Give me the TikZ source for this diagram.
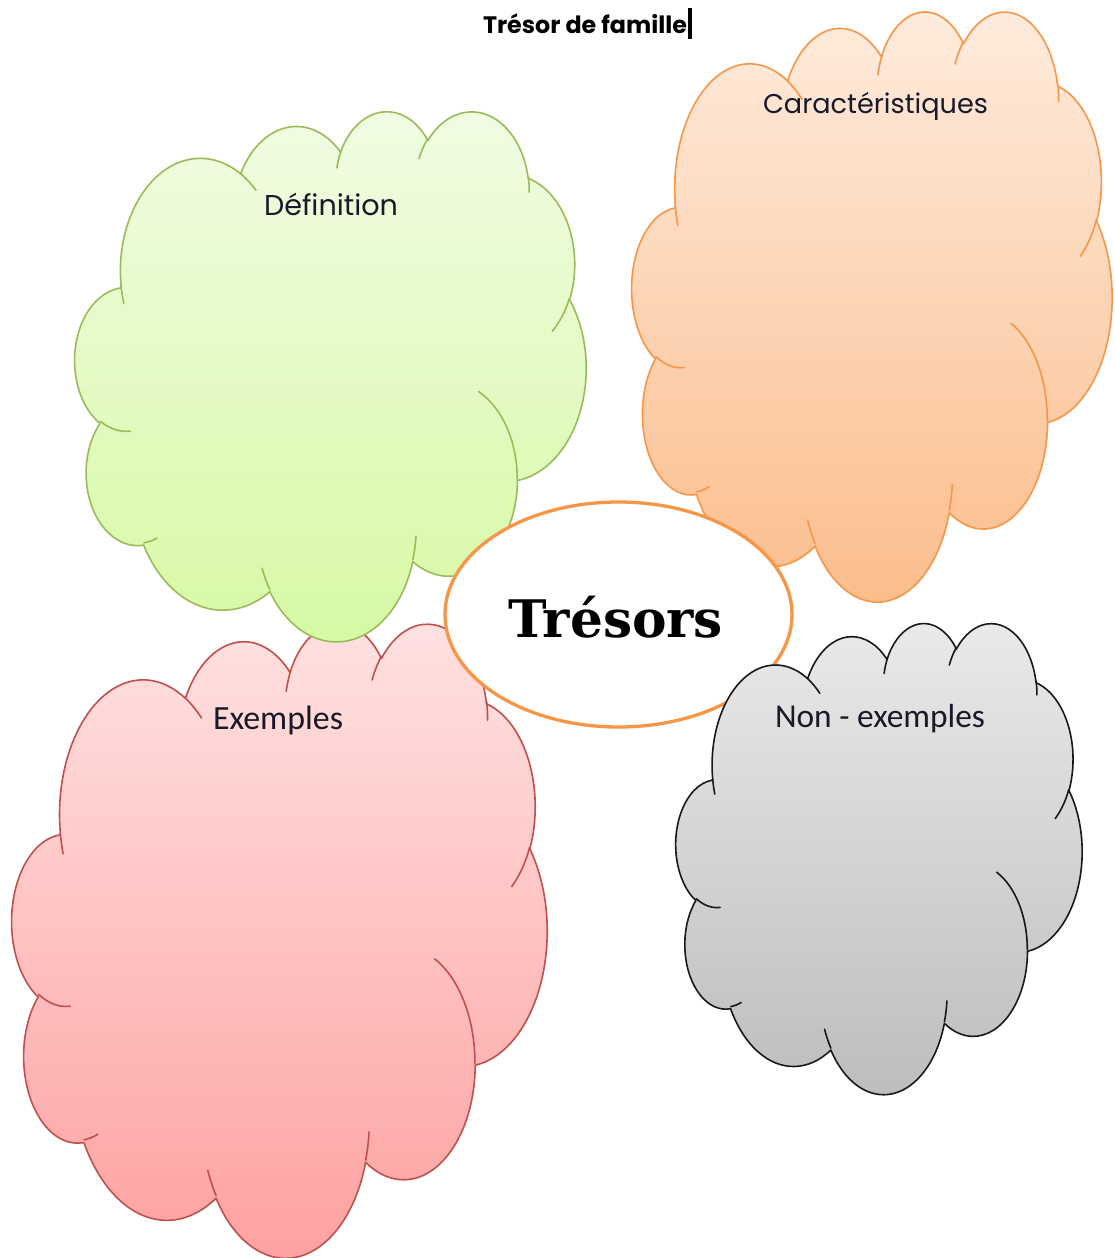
\documentclass[tikz,border=0pt]{standalone}
\usepackage{fontspec}
\usepackage{graphicx}
\usetikzlibrary{shapes.geometric}
\setmainfont{Carlito}
\newfontfamily\comicfont{Poppins}
\newfontfamily\fancyfont{DejaVu Serif}

\definecolor{gTop}{RGB}{240,252,228}
\definecolor{gBot}{RGB}{214,249,163}
\definecolor{gLine}{RGB}{155,187,89}
\definecolor{oTop}{RGB}{254,236,222}
\definecolor{oBot}{RGB}{251,188,138}
\definecolor{oLine}{RGB}{247,150,70}
\definecolor{pTop}{RGB}{255,226,226}
\definecolor{pBot}{RGB}{254,160,160}
\definecolor{pLine}{RGB}{192,80,77}
\definecolor{kTop}{RGB}{234,234,234}
\definecolor{kBot}{RGB}{188,188,188}
\definecolor{kLine}{RGB}{25,25,25}
\definecolor{txt}{RGB}{25,25,40}

% arc of the Office cloud: visual angles -> parametric angles (y flipped)
\newcommand\cloudarc[4]{%
  \pgfmathsetmacro\cta{atan2((#1)*sin(#3),(#2)*cos(#3))}%
  \pgfmathsetmacro\ctb{atan2((#1)*sin((#3)+(#4)),(#2)*cos((#3)+(#4)))}%
  \pgfmathsetmacro\ctd{(\ctb)-(\cta)}%
  \pgfmathsetmacro\ctd{(\ctd)+360*round(((#4)-(\ctd))/360)}%
  \pgfmathsetmacro\csa{0-(\cta)}%
  \pgfmathsetmacro\cda{0-(\ctd)}%
  \xdef\cloudbuf{\cloudbuf arc[start angle=\csa, delta angle=\cda, x radius=#1, y radius=#2]}%
}
\newcommand\cloudmove[2]{\xdef\cloudbuf{\cloudbuf (#1,-#2)}}

\tikzset{
  cloudline/.style={line width=1.6pt, line join=round, line cap=round},
  lbl/.style={inner sep=0pt, outer sep=0pt, anchor=base west, text=txt},
}

\newcommand\putcloud[7]{%
  \begin{scope}[shift={(#1,-#2)}, xscale=#3/4320, yscale=#4/4320]
    \shade[top color=#5, bottom color=#6, draw=#7, cloudline] \cloudouter -- cycle;
    \draw[draw=#7, cloudline] \cloudinner;
  \end{scope}}

\begin{document}
\begin{tikzpicture}[x=1pt,y=1pt]
% ---- build the cloud outline
\xdef\cloudbuf{(390,-1437)}
\cloudarc{675.3}{919.0}{-190.48748}{123.78053}
\cloudarc{533.3}{726.7}{-144.10238}{89.94523}
\cloudarc{436.5}{594.5}{-145.80792}{99.72302}
\cloudarc{485.7}{659.5}{-130.98607}{117.24173}
\cloudarc{533.3}{727.3}{-78.70888}{109.02692}
\cloudarc{677.5}{922.0}{-46.26725}{130.269}
\cloudarc{578.5}{786.7}{0.62502}{114.03333}
\cloudarc{675.2}{921.5}{22.4516}{115.17255}
\cloudarc{772.0}{1054.3}{66.24263}{75.71102}
\cloudarc{436.0}{591.8}{-274.94208}{146.73557}
\cloudarc{434.5}{594.5}{-246.8285}{152.51885}
\global\let\cloudouter\cloudbuf
% ---- inner arcs
\xdef\cloudbuf{}
\cloudmove{469.3}{2617.7}\cloudarc{434.5}{594.5}{86.742}{26.4295}
\cloudmove{692.8}{3489.9}\cloudarc{436.0}{591.8}{73.61047}{11.44747}
\cloudmove{1647.8}{3909.0}\cloudarc{675.2}{921.5}{137.62415}{14.0811}
\cloudmove{2882.7}{3475.1}\cloudarc{675.2}{921.5}{6.45327}{15.99835}
\cloudmove{3412.9}{2295.4}\cloudarc{578.5}{786.7}{-70.29235}{70.91737}
\cloudmove{4179.8}{1535.4}\cloudarc{533.3}{727.3}{30.31803}{27.7515}
\cloudmove{3832.4}{542.6}\cloudarc{485.7}{659.5}{-13.74433}{14.8589}
\cloudmove{2907.8}{395.2}\cloudarc{485.7}{659.5}{-149.18145}{18.19537}
\cloudmove{2214.1}{472.0}\cloudarc{436.5}{594.5}{-163.49427}{17.68635}
\cloudmove{1400.0}{519.2}\cloudarc{675.3}{919.0}{-66.70695}{12.31935}
\cloudmove{412.7}{1578.9}\cloudarc{675.3}{919.0}{157.65435}{11.85817}
\global\let\cloudinner\cloudbuf

% ---- canvas
\fill[white] (0,0) rectangle (1115,-1258);
\useasboundingbox (0,0) rectangle (1115,-1258);

% ---- clouds (back to front)
\putcloud{12}{622}{535}{634}{pTop}{pBot}{pLine}
\putcloud{75}{110}{511}{530}{gTop}{gBot}{gLine}
\putcloud{632}{10}{480}{590}{oTop}{oBot}{oLine}

% ---- centre ellipse
\node[draw=oLine, fill=white, line width=3.3pt, ellipse, minimum width=347pt, minimum height=225pt, inner sep=0pt] (centre) at (618.5,-614.5) {};

\putcloud{676}{622}{406}{471}{kTop}{kBot}{kLine}

% ---- texts
\node[lbl, text=black] (title) at (483,-33) {\comicfont\bfseries\resizebox{204pt}{!}{Trésor de famille}};
\fill[black] ([xshift=0.5pt]title.east |- 0,-8) rectangle ([xshift=4.5pt]title.east |- 0,-39);
\node[lbl] (defn) at (264,-215) {\comicfont\resizebox{134pt}{!}{Définition}};
\node[lbl] (carac) at (763,-113) {\comicfont\resizebox{225pt}{!}{Caractéristiques}};
\node[lbl] (exem) at (213,-729) {\resizebox{130pt}{!}{Exemples}};
\node[lbl] (nonex) at (775,-727) {\resizebox{210pt}{!}{Non - exemples}};
\node[lbl, text=black] (treso) at (508,-637) {\fancyfont\bfseries\resizebox{215pt}{!}{Trésors}};
\end{tikzpicture}
\end{document}
